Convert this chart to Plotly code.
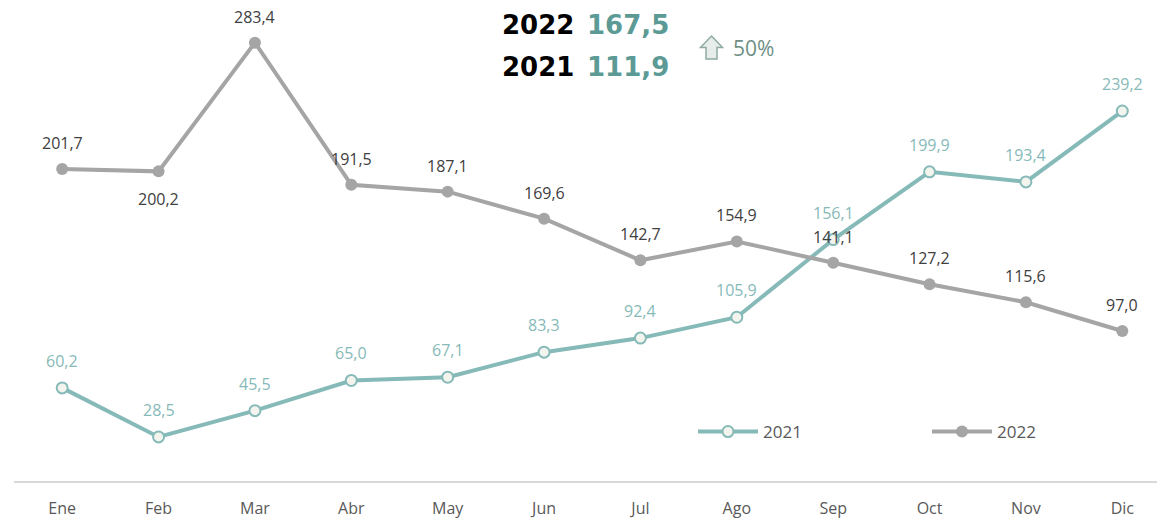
import plotly.graph_objects as go

months = ["Ene", "Feb", "Mar", "Abr", "May", "Jun", "Jul", "Ago", "Sep", "Oct", "Nov", "Dic"]
v2021 = [60.2, 28.5, 45.5, 65.0, 67.1, 83.3, 92.4, 105.9, 156.1, 199.9, 193.4, 239.2]
v2022 = [201.7, 200.2, 283.4, 191.5, 187.1, 169.6, 142.7, 154.9, 141.1, 127.2, 115.6, 97.0]
above2022 = [True, False, True, True, True, True, True, True, True, True, True, True]
avg2022 = "167,5"
avg2021 = "111,9"
change = "50%"

def fmt(v):
    return f"{v:.1f}".replace(".", ",")

x = list(range(len(months)))

teal = "#86BAB8"
gray = "#A5A5A5"
LBL = "Open Sans"

fig = go.Figure()
fig.add_trace(go.Scatter(
    x=x, y=v2021, name="2021", mode="lines+markers",
    line=dict(color=teal, width=4),
    marker=dict(size=11, color="#F4F4EE", line=dict(color=teal, width=2)),
    legend="legend",
))
fig.add_trace(go.Scatter(
    x=x, y=v2022, name="2022", mode="lines+markers",
    line=dict(color=gray, width=4),
    marker=dict(size=12, color=gray),
    legend="legend2",
))

for i, v in zip(x, v2021):
    fig.add_annotation(x=i, y=v, text=fmt(v), showarrow=False, yshift=27,
                       font=dict(family=LBL, size=16, color="#86BAB8"))
for i, v, up in zip(x, v2022, above2022):
    fig.add_annotation(x=i, y=v, text=fmt(v), showarrow=False, yshift=26 if up else -28,
                       font=dict(family=LBL, size=16, color="#404040"))

legfont = dict(family=LBL, size=17, color="#595959")
fig.update_layout(
    width=1157, height=522,
    margin=dict(l=14, r=0, t=0, b=41),
    plot_bgcolor="white", paper_bgcolor="white",
    xaxis=dict(range=[-0.5, 11.36], tickmode="array", tickvals=x, ticktext=months,
               showgrid=False, zeroline=False, showline=True, linecolor="#D9D9D9", linewidth=2,
               ticks="", tickfont=dict(family=LBL, size=16, color="#595959"),
               ticklabelstandoff=12, automargin=False,
               fixedrange=True),
    yaxis=dict(range=[0, 311], visible=False, fixedrange=True),
    legend=dict(x=(693 - 14) / 1143, y=(481 - 432) / 481, xanchor="left", yanchor="middle",
                font=legfont, bgcolor="rgba(0,0,0,0)", itemwidth=60),
    legend2=dict(x=(927 - 14) / 1143, y=(481 - 432) / 481, xanchor="left", yanchor="middle",
                 font=legfont, bgcolor="rgba(0,0,0,0)", itemwidth=60),
    showlegend=True,
)

ann = [
    dict(text="<b>2022</b>", x=576, y=25, color="#000000"),
    dict(text="<b>" + avg2022 + "</b>", x=671, y=25, color="#5B9A95"),
    dict(text="<b>2021</b>", x=576, y=67, color="#000000"),
    dict(text="<b>" + avg2021 + "</b>", x=671, y=67, color="#5B9A95"),
]
for a in ann:
    fig.add_annotation(text=a["text"], xref="paper", yref="paper",
                       x=(a["x"] - 14) / 1143, y=(481 - a["y"]) / 481,
                       xanchor="right", yanchor="middle", showarrow=False,
                       font=dict(family="DejaVu Sans", size=26, color=a["color"]))
# block up-arrow
fig.add_shape(type="path", xref="paper", yref="paper",
              xsizemode="pixel", ysizemode="pixel",
              xanchor=(711.5 - 14) / 1143, yanchor=(481 - 47.5) / 481,
              path="M 0,11.5 L 11,0 L 5.5,0 L 5.5,-11.5 L -5.5,-11.5 L -5.5,0 L -11,0 Z",
              fillcolor="#E6EDEA", line=dict(color="#8FAA9F", width=1.5))
fig.add_annotation(text=change, xref="paper", yref="paper",
                   x=(731 - 14) / 1143, y=(481 - 48) / 481, xanchor="left", yanchor="middle",
                   showarrow=False, font=dict(family=LBL, size=21, color="#6F8F86"))

fig.write_html("out.html", config={"responsive": False, "displayModeBar": False},
               post_script="document.body.style.margin='0px';document.body.style.overflow='hidden';")
